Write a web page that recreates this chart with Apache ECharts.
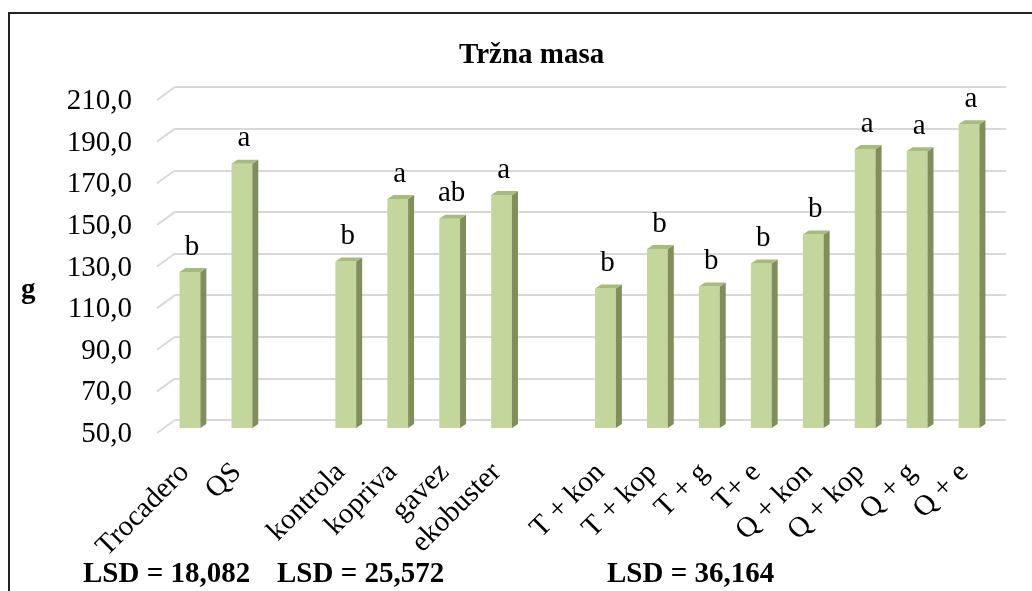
<!DOCTYPE html>
<html>
<head>
  <meta charset="UTF-8">
  <title>Tržna masa</title>
  <script src="https://cdn.jsdelivr.net/npm/echarts@6/dist/echarts.min.js"></script>
  <style>
    html, body { margin: 0; padding: 0; background: #fff; }
    #chart { width: 1032px; height: 591px; }
  </style>
</head>
<body>
<div id="chart"></div>
<script>
  // podatki
  var categories = ['Trocadero', 'QS', '', 'kontrola', 'kopriva', 'gavez', 'ekobuster', '',
    'T + kon', 'T + kop', 'T + g', 'T+ e', 'Q + kon', 'Q + kop', 'Q + g', 'Q + e'];
  var masa = [125, 177, null, 130, 160, 150.5, 162, null,
    117, 136, 118, 129, 143, 184, 183, 196];
  var letters = ['b', 'a', '', 'b', 'a', 'ab', 'a', '',
    'b', 'b', 'b', 'b', 'b', 'a', 'a', 'a'];
  var yTicks = [50, 70, 90, 110, 130, 150, 170, 190, 210];
  var lsdTexts = ['LSD = 18,082', 'LSD = 25,572', 'LSD = 36,164'];

  var font = "'Liberation Serif', 'Times New Roman', serif";
  var chart = echarts.init(document.getElementById('chart'));

  var option = {
    backgroundColor: '#fff',
    animation: false,
    title: {
      text: 'Tržna masa',
      left: 454,
      top: 36,
      textStyle: { fontFamily: font, fontSize: 29, fontWeight: 'bold', color: '#000' }
    },
    grid: [
      { left: 175, right: 26, top: 87, bottom: 171 },  // zadnja ravnina
      { left: 164, right: 37, top: 95, bottom: 163 },  // sprednja ravnina
      { left: 159, right: 42, top: 95, bottom: 163 }   // oznake kategorij
    ],
    xAxis: [
      {
        gridIndex: 0, type: 'category', data: categories,
        axisLine: { show: false }, axisTick: { show: false }, axisLabel: { show: false }
      },
      {
        gridIndex: 1, type: 'category', data: categories,
        axisLine: { show: false }, axisTick: { show: false }, axisLabel: { show: false }
      },
      {
        gridIndex: 2, type: 'category', data: categories,
        axisLine: { show: false }, axisTick: { show: false },
        axisLabel: {
          interval: 0, rotate: 45, margin: 40,
          fontFamily: font, fontSize: 29, color: '#000'
        }
      }
    ],
    yAxis: [
      {
        gridIndex: 0, type: 'value', min: 50, max: 210, interval: 20,
        axisLine: { show: false }, axisTick: { show: false },
        axisLabel: {
          margin: 43, verticalAlign: 'top',
          fontFamily: font, fontSize: 29, color: '#000',
          formatter: function (v) { return v.toFixed(1).replace('.', ','); }
        },
        splitLine: { lineStyle: { color: '#d9d9d9', width: 2 } }
      },
      { gridIndex: 1, type: 'value', min: 50, max: 210, interval: 20, show: false },
      { gridIndex: 2, type: 'value', min: 50, max: 210, interval: 20, show: false }
    ],
    series: [
      {
        // diagonalni del mrežnih črt
        type: 'custom',
        xAxisIndex: 0, yAxisIndex: 0,
        data: yTicks.map(function (v) { return [0, v]; }),
        silent: true,
        renderItem: function (params, api) {
          var p = api.coord([0, api.value(1)]);
          var x0 = params.coordSys.x;
          return {
            type: 'line',
            shape: { x1: x0, y1: p[1], x2: x0 - 18, y2: p[1] + 13 },
            style: { stroke: '#d9d9d9', lineWidth: 2 }
          };
        }
      },
      {
        // 3D stolpci
        type: 'custom',
        xAxisIndex: 1, yAxisIndex: 1,
        data: masa.map(function (v, i) { return [i, v]; }),
        renderItem: function (params, api) {
          var v = api.value(1);
          if (v == null || isNaN(v)) return;
          var i = api.value(0);
          var top = api.coord([i, v]);
          var base = api.coord([i, 50]);
          var w = api.size([1, 0])[0] * 0.4;
          var x0 = top[0] - w / 2, x1 = top[0] + w / 2;
          var dx = 6, dy = -4;
          return {
            type: 'group',
            children: [
              {
                type: 'rect',
                shape: { x: x0, y: top[1], width: w, height: base[1] - top[1] },
                style: { fill: '#c3d69b' }
              },
              {
                type: 'polygon',
                shape: { points: [[x1, top[1]], [x1 + dx, top[1] + dy], [x1 + dx, base[1] + dy], [x1, base[1]]] },
                style: { fill: '#7f8e5b' }
              },
              {
                type: 'polygon',
                shape: { points: [[x0, top[1]], [x0 + dx, top[1] + dy], [x1 + dx, top[1] + dy], [x1, top[1]]] },
                style: { fill: '#a7bb7d' }
              },
              {
                type: 'text',
                style: {
                  x: top[0] + 2, y: top[1] - 25,
                  text: letters[params.dataIndex],
                  align: 'center', verticalAlign: 'middle',
                  font: '29px ' + font, fill: '#000'
                }
              }
            ]
          };
        }
      }
    ],
    graphic: [
      {
        type: 'rect', silent: true,
        shape: { x: 9, y: 13, width: 1100, height: 700 },
        style: { fill: 'none', stroke: '#222', lineWidth: 2 }
      },
      {
        type: 'text', left: 21, top: 276,
        style: { text: 'g', font: 'bold 29px ' + font, fill: '#000' }
      },
      {
        type: 'text', left: 83, top: 560,
        style: { text: lsdTexts[0], font: 'bold 29px ' + font, fill: '#000' }
      },
      {
        type: 'text', left: 277, top: 560,
        style: { text: lsdTexts[1], font: 'bold 29px ' + font, fill: '#000' }
      },
      {
        type: 'text', left: 607, top: 560,
        style: { text: lsdTexts[2], font: 'bold 29px ' + font, fill: '#000' }
      }
    ]
  };

  chart.setOption(option);
</script>
</body>
</html>
